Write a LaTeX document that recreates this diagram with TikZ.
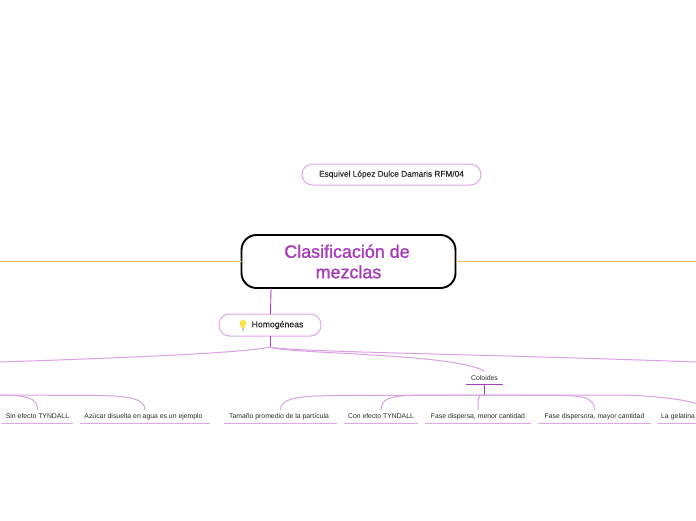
\documentclass[tikz,border=0pt]{standalone}
\usepackage{fontspec}
\setmainfont{Liberation Sans}
\newfontfamily\medf{Liberation Sans}[FakeBold=0.25]
\newfontfamily\titlef{Liberation Sans}[FakeBold=1.4]
\definecolor{mainp}{HTML}{A83DBB}
\definecolor{softp}{HTML}{DDA8E5}
\definecolor{edgep}{HTML}{D9A0E2}
\definecolor{sideline}{RGB}{246,190,90}
\definecolor{ink}{HTML}{2A2A2A}
\tikzset{
  every node/.style={inner sep=0pt,outer sep=0pt,text=ink},
  title/.style={draw=black,line width=1.9pt,rounded corners=15pt,minimum width=214pt,minimum height=53pt,
    text=mainp,align=center,font=\titlef\fontsize{17.9}{20.5}\selectfont},
  pill/.style={draw=softp,line width=1pt,rounded corners=10.5pt,fill=white,font=\medf\fontsize{8.3}{10}\selectfont},
  leaf/.style={minimum height=13pt,font=\fontsize{6.85}{8}\selectfont},
  underline/.style={draw=softp,line width=1pt},
  link/.style={draw=edgep,line width=1pt},
  strong/.style={draw=mainp,line width=0.9pt},
  warm/.style={draw=sideline,line width=1.2pt}
}
\begin{document}
\begin{tikzpicture}[x=1pt,y=-1pt]
\useasboundingbox (0,0) rectangle (696,520);
\clip (0,0) rectangle (696,520);
% free ends
\coordinate (WL) at (0,261.5);
\coordinate (WR) at (696,261.5);
\coordinate (HB) at (270,347);
\coordinate (OL) at (0,362);
\coordinate (OR) at (696,362);
\coordinate (CB) at (484.5,395);
\coordinate (LH) at (0,395);
\node[title] (T) at (348.5,261.5) {\hspace*{-3pt}Clasificación de\\mezclas};
\node[pill,minimum width=179pt,minimum height=21pt] (E) at (391.5,174.5) {Esquivel López Dulce Damaris RFM/04};
\node[pill,minimum width=102pt,minimum height=22pt,font=\medf\fontsize{8.7}{10}\selectfont] (H) at (270,325) {\hspace*{15pt}Homogéneas};
% bulb icon
\fill[yellow!75!orange!70] (243,323.3) circle (3.4pt);
\fill[yellow!75!orange!70] (241.2,325) rectangle (244.8,328);
\fill[gray!45] (241.6,328) rectangle (244.4,330.6);
% leaves
\node[leaf,minimum width=37pt] (C) at (484.5,377.8) {Coloides};
\node[leaf,minimum width=71pt] (L1) at (37.5,416.5) {Sin efecto TYNDALL};
\node[leaf,minimum width=130pt] (L2) at (145,416.5) {\hspace*{-3pt}Azúcar disuelta en agua es un ejemplo};
\node[leaf,minimum width=113pt] (L3) at (280.5,416.5) {\hspace*{-3pt}Tamaño promedio de la partícula};
\node[leaf,minimum width=74pt] (L4) at (381,416.5) {Con efecto TYNDALL};
\node[leaf,minimum width=106pt] (L5) at (478,416.5) {Fase dispersa, menor cantidad};
\node[leaf,minimum width=113pt] (L6) at (594.5,416.5) {Fase dispersora, mayor cantidad};
\node[leaf,minimum width=114pt,text width=108pt,align=left] (L7) at (715,416.5) {La gelatina};
\foreach \n in {L1,L2,L3,L4,L5,L6,L7} \draw[underline] (\n.south west) -- (\n.south east);
\draw[strong] (C.south west) -- (C.south east);
% connectors
\draw[warm] (T.west) -- (WL);
\draw[warm] (T.east) -- (WR);
\draw[strong] (T.south -| 271,0) -- (H.north -| 270.5,0);
\draw[strong] (H.south) -- (HB);
\draw[link] (HB) .. controls (245,353) and (120,358) .. (OL);
\draw[link] (HB) .. controls (290,352) and (480,354) .. (OR);
\draw[link] (HB) .. controls (285,354) and (455,353) .. (C.north);
\draw[strong] (C.south) -- (CB);
\draw[link] (LH) .. controls (25,395.5) and (38,397) .. (L1.north);
\draw[link] (LH) -- (100,395.5) .. controls (130,396) and (145,399) .. (L2.north);
\draw[link] (CB) -- (335,395.5) .. controls (295,396) and (280.5,399) .. (L3.north);
\draw[link] (CB) -- (410,395.5) .. controls (390,396) and (381,399) .. (L4.north);
\draw[link] (CB) -- (482,395) .. controls (479,395.5) and (478,397) .. (L5.north);
\draw[link] (CB) -- (565,395.5) .. controls (585,396) and (594.5,399) .. (L6.north);
\draw[link] (CB) -- (620,395) .. controls (660,396) and (695,400) .. (L7.north);
\end{tikzpicture}
\end{document}
